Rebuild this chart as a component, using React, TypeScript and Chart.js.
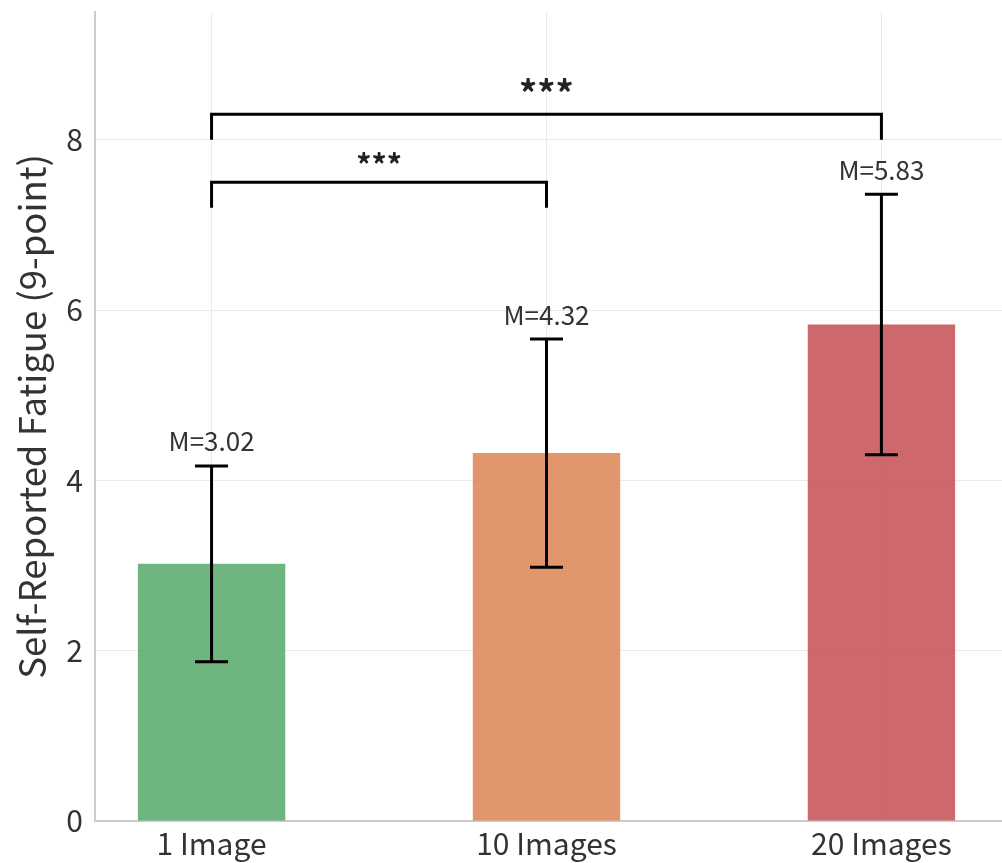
import React, { useEffect, useRef } from "react";
import { Chart, registerables } from "chart.js";

Chart.register(...registerables);

const categories = ["1 Image", "10 Images", "20 Images"];
const means = [3.02, 4.32, 5.83];
const sds = [1.15, 1.34, 1.53];
const meanLabels = ["M=3.02", "M=4.32", "M=5.83"];
const barColors = [
  "rgba(85,168,104,0.85)",
  "rgba(221,132,82,0.85)",
  "rgba(196,78,82,0.85)",
];
const yTicks = [0, 2, 4, 6, 8];
const bracketFrom = [0, 0];
const bracketTo = [1, 2];
const bracketHeights = [7.5, 8.3];
const bracketDrop = [0.3, 0.3];
const bracketLabels = ["***", "***"];
const bracketLabelSizes = [30, 36];

const FONT = "'Noto Sans CJK SC', 'Noto Sans', sans-serif";

const annotations = {
  id: "annotations",
  afterDatasetsDraw(chart: any) {
    const { ctx, scales } = chart;
    const x = scales.x;
    const y = scales.y;
    ctx.save();
    ctx.strokeStyle = "#000";
    ctx.lineWidth = 3;
    ctx.lineCap = "butt";
    ctx.lineJoin = "miter";
    // error bars
    means.forEach((m, i) => {
      const px = x.getPixelForValue(i);
      const lo = y.getPixelForValue(m - sds[i]);
      const hi = y.getPixelForValue(m + sds[i]);
      ctx.beginPath();
      ctx.moveTo(px, lo);
      ctx.lineTo(px, hi);
      ctx.moveTo(px - 16.5, lo);
      ctx.lineTo(px + 16.5, lo);
      ctx.moveTo(px - 16.5, hi);
      ctx.lineTo(px + 16.5, hi);
      ctx.stroke();
    });
    // mean labels
    ctx.fillStyle = "#333";
    ctx.font = `26px ${FONT}`;
    ctx.textAlign = "center";
    ctx.textBaseline = "alphabetic";
    means.forEach((m, i) => {
      const px = x.getPixelForValue(i);
      ctx.fillText(meanLabels[i], px, y.getPixelForValue(m + sds[i] + 0.17));
    });
    // brackets
    bracketFrom.forEach((f, i) => {
      const x0 = x.getPixelForValue(f);
      const x1 = x.getPixelForValue(bracketTo[i]);
      const yh = y.getPixelForValue(bracketHeights[i]);
      const yd = y.getPixelForValue(bracketHeights[i] - bracketDrop[i]);
      ctx.beginPath();
      ctx.moveTo(x0, yd);
      ctx.lineTo(x0, yh);
      ctx.lineTo(x1, yh);
      ctx.lineTo(x1, yd);
      ctx.stroke();
      ctx.font = `bold ${bracketLabelSizes[i]}px ${FONT}`;
      ctx.textBaseline = "alphabetic";
      ctx.fillStyle = "#222";
      ctx.fillText(bracketLabels[i], (x0 + x1) / 2, y.getPixelForValue(bracketHeights[i] + 0.08));
    });
    ctx.restore();
  },
};

export default function App() {
  const ref = useRef<HTMLCanvasElement>(null);
  useEffect(() => {
    if (!ref.current) return;
    const chart = new Chart(ref.current, {
      type: "bar",
      data: {
        datasets: [
          {
            data: means.map((m, i) => ({ x: i, y: m })),
            backgroundColor: barColors,
            borderWidth: 0,
            barPercentage: 0.44,
            categoryPercentage: 1,
          },
        ],
      },
      options: {
        responsive: false,
        animation: false,
        layout: { padding: { top: 12, right: 0, bottom: 0, left: 0 } },
        plugins: { legend: { display: false }, tooltip: { enabled: false } },
        scales: {
          x: {
            type: "linear",
            offset: false,
            min: -0.348,
            max: 2.36,
            afterBuildTicks: (s: any) => {
              s.ticks = categories.map((_, i) => ({ value: i }));
            },
            afterFit: (s: any) => {
              s.height = 42;
              s.paddingLeft = 0;
              s.paddingRight = 0;
            },
            ticks: {
              callback: (v: any) => categories[v] ?? "",
              color: "#333",
              font: { family: FONT, size: 30 },
              padding: 5,
              maxRotation: 0,
              autoSkip: false,
            },
            grid: { color: "#ebebeb", lineWidth: 1, drawTicks: false, offset: false },
            border: { color: "#cccccc", width: 2 },
          },
          y: {
            type: "linear",
            min: 0,
            max: 9.5,
            afterBuildTicks: (s: any) => {
              s.ticks = yTicks.map((v) => ({ value: v }));
            },
            afterFit: (s: any) => {
              s.width = 95;
              s.paddingTop = 0;
              s.paddingBottom = 0;
            },
            ticks: {
              color: "#333",
              font: { family: FONT, size: 30 },
              padding: 12,
            },
            grid: { color: "#ebebeb", lineWidth: 1, drawTicks: false },
            border: { color: "#cccccc", width: 2 },
            title: {
              display: true,
              text: "Self-Reported Fatigue (9-point)",
              color: "#333",
              font: { family: FONT, size: 36.5 },
              padding: { top: 10, bottom: 0 },
            },
          },
        },
      },
      plugins: [annotations],
    } as any);
    return () => chart.destroy();
  }, []);
  return (
    <div style={{ position: "fixed", left: 0, top: 0, width: 1002, height: 863, background: "#fff" }}>
      <canvas ref={ref} width={1002} height={863} />
    </div>
  );
}
